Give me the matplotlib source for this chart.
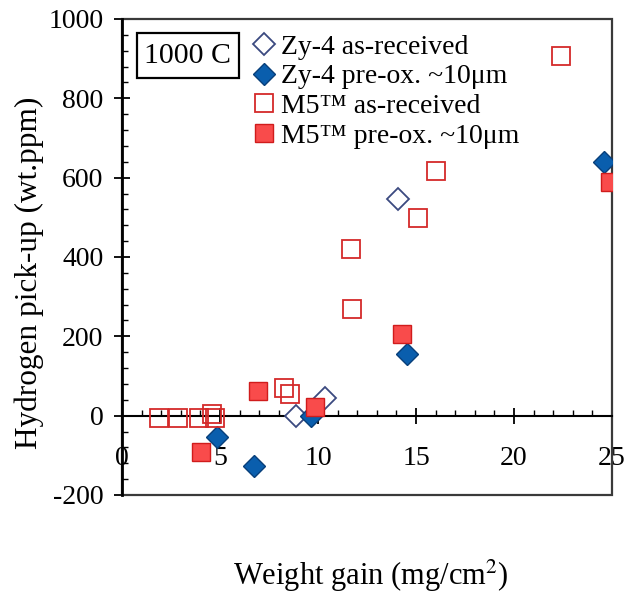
import matplotlib
matplotlib.use("Agg")
import matplotlib.pyplot as plt
from matplotlib.ticker import MultipleLocator
from matplotlib.patches import Rectangle

plt.rcParams['font.family'] = ['Liberation Serif', 'DejaVu Serif']
plt.rcParams['mathtext.fontset'] = 'stix'
plt.rcParams['axes.unicode_minus'] = False

# ---- data ----
zy4_ar_x = [8.9, 10.35, 14.1]
zy4_ar_y = [0, 45, 547]

zy4_ox_x = [4.87, 6.72, 9.64, 14.56, 24.6]
zy4_ox_y = [-55, -126, -2, 156, 640]

m5_ar_x = [1.9, 2.87, 3.95, 4.6, 4.75, 8.27, 8.56, 11.7, 11.73, 15.1, 16.0, 22.4]
m5_ar_y = [-5, -5, -5, 5, -5, 71, 55, 421, 270, 499, 617, 907]

m5_ox_x = [4.05, 6.92, 9.85, 14.3, 24.9]
m5_ox_y = [-91, 61, 23, 206, 590]

labels = ["Zy-4 as-received", "Zy-4 pre-ox. ~10μm",
          "M5™ as-received", "M5™ pre-ox. ~10μm"]

x_ticks = [0, 5, 10, 15, 20, 25]
y_ticks = [-200, 0, 200, 400, 600, 800, 1000]

fig = plt.figure(figsize=(6.28, 5.93), dpi=100)
ax = fig.add_axes([122/628, 1-495/593, (612-122)/628, (495-19)/593])

ax.plot(zy4_ar_x, zy4_ar_y, ls='none', marker='D', ms=11.5, mfc='white',
        mec='#3b4a80', mew=1.3, label=labels[0], zorder=3)
ax.plot(zy4_ox_x, zy4_ox_y, ls='none', marker='D', ms=11.5, mfc='#0a5ead',
        mec='#083f7a', mew=1.0, label=labels[1], zorder=3)
ax.plot(m5_ar_x, m5_ar_y, ls='none', marker='s', ms=12.5, mfc='none',
        mec='#d42a2a', mew=1.3, label=labels[2], zorder=3)
ax.plot(m5_ox_x, m5_ox_y, ls='none', marker='s', ms=12.5, mfc='#f94b4b',
        mec='#d01c1c', mew=1.0, label=labels[3], zorder=3)

ax.set_xlim(0, 25)
ax.set_ylim(-200, 1000)
ax.set_xticks(x_ticks)
ax.set_yticks(y_ticks)
ax.xaxis.set_minor_locator(MultipleLocator(1))
ax.yaxis.set_minor_locator(MultipleLocator(40))

ax.spines['top'].set_visible(False)
ax.spines['right'].set_visible(False)
ax.spines['bottom'].set_position(('data', 0))
ax.spines['bottom'].set_linewidth(1.5)
ax.spines['bottom'].set_color('black')
ax.spines['left'].set_linewidth(2.0)
ax.spines['left'].set_color('black')
ax.spines['left'].set_zorder(4)

frame = Rectangle((0, 0), 1, 1, transform=ax.transAxes, fill=False,
                  ec='#3a3a3a', lw=1.6, clip_on=False, zorder=2)
ax.add_patch(frame)

ax.tick_params(axis='x', which='major', direction='inout', length=12,
               width=1.3, pad=16, labelsize=20)
ax.tick_params(axis='x', which='minor', direction='in', length=4.5, width=1.0)
ax.tick_params(axis='y', which='major', direction='inout', length=11,
               width=1.3, pad=8, labelsize=20)
ax.tick_params(axis='y', which='minor', direction='in', length=4.5, width=1.0)

# boxed temperature label
box = Rectangle((15/490, (495-78)/476), 102/490, 45/476, transform=ax.transAxes,
                fill=True, fc='white', ec='black', lw=1.6, zorder=5)
ax.add_patch(box)
ax.text((188-122)/490, (495-56)/476, "1000 C",
        transform=ax.transAxes, fontsize=21.5, ha='center', va='center', zorder=6)

leg = ax.legend(loc='upper left', bbox_to_anchor=(0.262, 0.968),
                frameon=False, borderpad=0, borderaxespad=0,
                handlelength=1.0, handletextpad=0.1, labelspacing=0.15,
                fontsize=20)

fig.text(29/628, 1-273/593, "Hydrogen pick-up (wt.ppm)", rotation=90,
         ha='center', va='center', fontsize=22.5)
fig.text(371/628, 1-576/593, "Weight gain (mg/cm$^{2}$)",
         ha='center', va='center', fontsize=22)

fig.savefig("out.png", dpi=100)
